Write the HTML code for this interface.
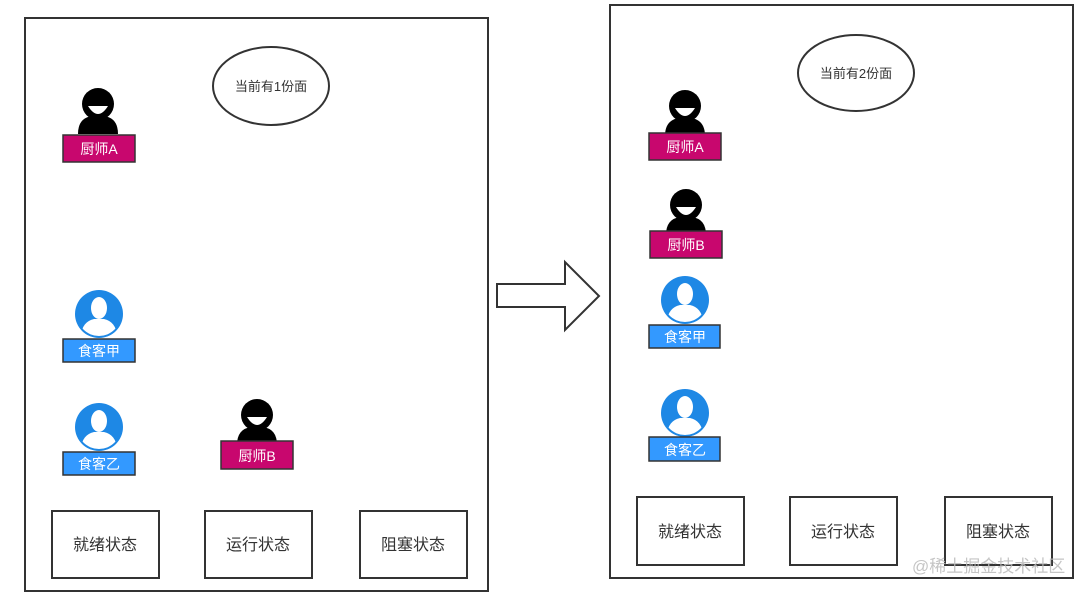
<!DOCTYPE html>
<html><head><meta charset="utf-8"><style>
html,body{margin:0;padding:0;background:#fff;}
svg{display:block;font-family:"Liberation Sans","Noto Sans CJK SC",sans-serif;}
</style></head><body>
<svg width="1092" height="594" viewBox="0 0 1092 594" xmlns="http://www.w3.org/2000/svg">
<defs>
<g id="chef">
  <path d="M-20,30 Q-20,14 -6,12 L6,12 Q20,14 20,30 Z" fill="#000"/>
  <circle cx="0" cy="0" r="16" fill="#000"/>
  <path d="M-10,2 Q0,18 10,2 Z" fill="#fff"/>
</g>
<g id="diner">
  <circle cx="0" cy="0" r="24" fill="#1e88e5"/>
  <clipPath id="dc"><circle cx="0" cy="0" r="22"/></clipPath>
  <g clip-path="url(#dc)" fill="#fff">
    <ellipse cx="0" cy="-6" rx="8" ry="11"/>
    <path d="M-18,24 Q-18,8 -5,5 L5,5 Q18,8 18,24 Z"/>
  </g>
</g>
</defs>
<rect x="25" y="18" width="463" height="573" fill="#fff" stroke="#333" stroke-width="2"/>
<rect x="610" y="5" width="463" height="573" fill="#fff" stroke="#333" stroke-width="2"/>
<ellipse cx="271" cy="86" rx="58" ry="39" fill="#fff" stroke="#333" stroke-width="2"/>
<text x="271" y="91" font-size="13" text-anchor="middle" fill="#333">当前有1份面</text>
<ellipse cx="856" cy="73" rx="58" ry="38" fill="#fff" stroke="#333" stroke-width="2"/>
<text x="856" y="78" font-size="13" text-anchor="middle" fill="#333">当前有2份面</text>

<!-- left chef A -->
<use href="#chef" x="98" y="104"/>
<rect x="63" y="135" width="72" height="27" fill="#c8076e" stroke="#333" stroke-width="1.5"/>
<text x="99" y="154" font-size="14" fill="#fff" text-anchor="middle">厨师A</text>
<!-- left diners -->
<use href="#diner" x="99" y="314"/>
<rect x="63" y="339" width="72" height="23" fill="#3399ff" stroke="#333" stroke-width="1.5"/>
<text x="99" y="356" font-size="14" fill="#fff" text-anchor="middle">食客甲</text>
<use href="#diner" x="99" y="427"/>
<rect x="63" y="452" width="72" height="23" fill="#3399ff" stroke="#333" stroke-width="1.5"/>
<text x="99" y="469" font-size="14" fill="#fff" text-anchor="middle">食客乙</text>
<!-- left chef B -->
<use href="#chef" x="257" y="415"/>
<rect x="221" y="441" width="72" height="28" fill="#c8076e" stroke="#333" stroke-width="1.5"/>
<text x="257" y="461" font-size="14" fill="#fff" text-anchor="middle">厨师B</text>
<!-- left states -->
<g fill="#fff" stroke="#333" stroke-width="2">
<rect x="52" y="511" width="107" height="67"/><rect x="205" y="511" width="107" height="67"/><rect x="360" y="511" width="107" height="67"/>
<rect x="637" y="497" width="107" height="68"/><rect x="790" y="497" width="107" height="68"/><rect x="945" y="497" width="107" height="68"/>
</g>
<g font-size="16" fill="#333" text-anchor="middle">
<text x="105" y="550">就绪状态</text><text x="258" y="550">运行状态</text><text x="413" y="550">阻塞状态</text>
<text x="690" y="537">就绪状态</text><text x="843" y="537">运行状态</text><text x="998" y="537">阻塞状态</text>
</g>
<!-- arrow -->
<path d="M497,284 L565,284 L565,262 L599,296 L565,330 L565,307 L497,307 Z" fill="#fff" stroke="#333" stroke-width="2"/>
<!-- right -->
<use href="#chef" x="685" y="106"/>
<rect x="649" y="133" width="72" height="27" fill="#c8076e" stroke="#333" stroke-width="1.5"/>
<text x="685" y="152" font-size="14" fill="#fff" text-anchor="middle">厨师A</text>
<use href="#chef" x="686" y="205"/>
<rect x="650" y="231" width="72" height="27" fill="#c8076e" stroke="#333" stroke-width="1.5"/>
<text x="686" y="250" font-size="14" fill="#fff" text-anchor="middle">厨师B</text>
<use href="#diner" x="685" y="300"/>
<rect x="649" y="325" width="71" height="23" fill="#3399ff" stroke="#333" stroke-width="1.5"/>
<text x="685" y="342" font-size="14" fill="#fff" text-anchor="middle">食客甲</text>
<use href="#diner" x="685" y="413"/>
<rect x="649" y="437" width="71" height="24" fill="#3399ff" stroke="#333" stroke-width="1.5"/>
<text x="685" y="455" font-size="14" fill="#fff" text-anchor="middle">食客乙</text>
<text x="912" y="572" font-size="17" fill="#bbb" fill-opacity="0.85">@稀土掘金技术社区</text>
</svg>
</body></html>
